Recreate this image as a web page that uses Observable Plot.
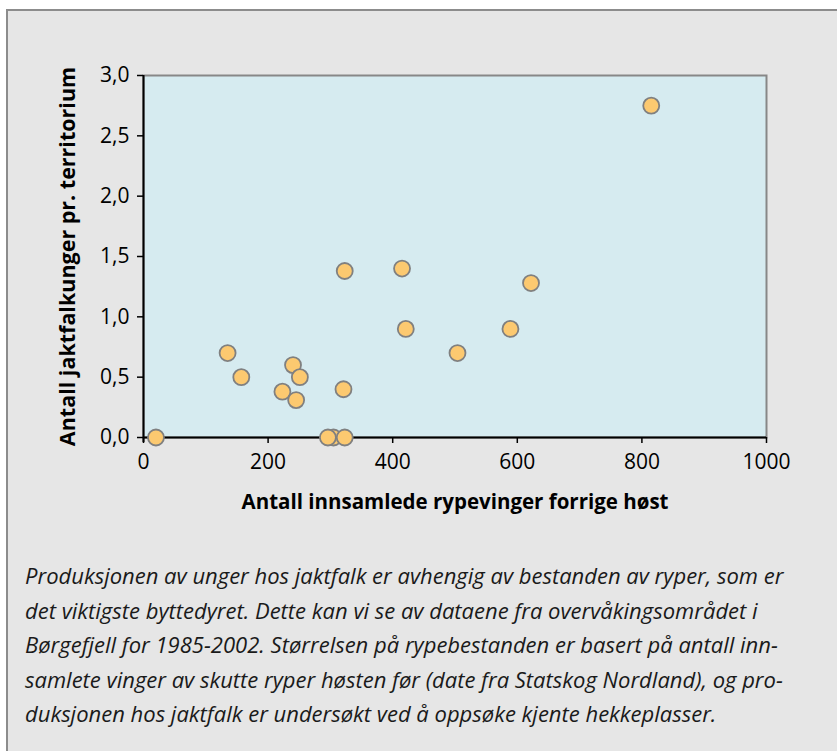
<!DOCTYPE html>
<html>
<head>
<meta charset="utf-8">
<script src="https://cdn.jsdelivr.net/npm/d3@7"></script>
<script src="https://cdn.jsdelivr.net/npm/@observablehq/plot@0.6"></script>
<style>
  html, body { margin: 0; padding: 0; background: #ffffff; }
  #page { position: relative; width: 837px; height: 751px; overflow: hidden; }
  #box { position: absolute; left: 6px; top: 9px; width: 900px; height: 800px;
         background: #e6e6e6; border-left: 2px solid #8c8c8c; border-top: 2px solid #8c8c8c; }
  #chart { position: absolute; left: 0; top: 0; }
  #caption { position: absolute; left: 25px; top: 558px; width: 810px;
             font-family: "Open Sans", sans-serif; font-style: italic; font-size: 22px;
             line-height: 34.5px; color: #1a1a1a; white-space: nowrap; }
</style>
</head>
<body>
<div id="page">
  <div id="box"></div>
  <div id="chart"></div>
  <div id="caption"></div>
</div>
<script>
// Data (Børgefjell 1985-2002)
const rypevinger = [20, 135, 157, 223, 240, 251, 245, 305, 296, 323, 321, 323, 415, 421, 504, 589, 622, 815];
const jaktfalkunger = [0, 0.70, 0.50, 0.38, 0.60, 0.50, 0.31, 0, 0, 0, 0.40, 1.38, 1.40, 0.90, 0.70, 0.90, 1.28, 2.75];
const xTicks = [0, 200, 400, 600, 800, 1000];
const yTicks = [0, 0.5, 1, 1.5, 2, 2.5, 3];
const yTickLabels = ["0,0", "0,5", "1,0", "1,5", "2,0", "2,5", "3,0"];
const xLabel = "Antall innsamlede rypevinger forrige høst";
const yLabel = "Antall jaktfalkunger pr. territorium";
const captionLines = [
  "Produksjonen av unger hos jaktfalk er avhengig av bestanden av ryper, som er",
  "det viktigste byttedyret. Dette kan vi se av dataene fra overvåkingsområdet i",
  "Børgefjell for 1985-2002. Størrelsen på rypebestanden er basert på antall inn-",
  "samlete vinger av skutte ryper høsten før (date fra Statskog Nordland), og pro-",
  "duksjonen hos jaktfalk er undersøkt ved å oppsøke kjente hekkeplasser."
];

const data = rypevinger.map((x, i) => ({x, y: jaktfalkunger[i]}));
const font = "'Open Sans', sans-serif";

const chart = Plot.plot({
  width: 837,
  height: 540,
  marginLeft: 143,
  marginRight: 71,
  marginTop: 75,
  marginBottom: 103,
  style: {background: "transparent", fontFamily: font, fontSize: "21px", color: "#000", overflow: "visible"},
  x: {domain: [0, 1000]},
  y: {domain: [0, 3]},
  marks: [
    Plot.frame({fill: "#d6ebf0", stroke: "#878787", strokeWidth: 2}),
    Plot.axisX({ticks: xTicks, tickSize: 6, tickPadding: 11, stroke: "#000", strokeWidth: 1.5,
                fill: "#000", fontSize: 21, label: null, tickFormat: d => String(d)}),
    Plot.axisY({ticks: yTicks, tickSize: 6, tickPadding: 8, stroke: "#000", strokeWidth: 1.5,
                fill: "#000", fontSize: 21, label: null,
                tickFormat: d => yTickLabels[yTicks.indexOf(d)]}),
    Plot.ruleX([0], {stroke: "#000", strokeWidth: 2, insetBottom: -5}),
    Plot.ruleY([0], {stroke: "#000", strokeWidth: 2}),
    Plot.text([yLabel], {frameAnchor: "left", rotate: -90, textAnchor: "middle", dx: -75,
                         fontWeight: "bold", fontSize: 21.5, fill: "#000"}),
    Plot.text([xLabel], {frameAnchor: "bottom", dy: 71, fontWeight: "bold", fontSize: 20.5, fill: "#000"}),
    Plot.dot(data, {x: "x", y: "y", r: 8, fill: "#fcc970", stroke: "#808080", strokeWidth: 1.8, clip: false})
  ]
});
document.getElementById("chart").appendChild(chart);

const cap = document.getElementById("caption");
captionLines.forEach((line, i) => {
  const d = document.createElement("div");
  d.textContent = line;
  cap.appendChild(d);
});
</script>
</body>
</html>
